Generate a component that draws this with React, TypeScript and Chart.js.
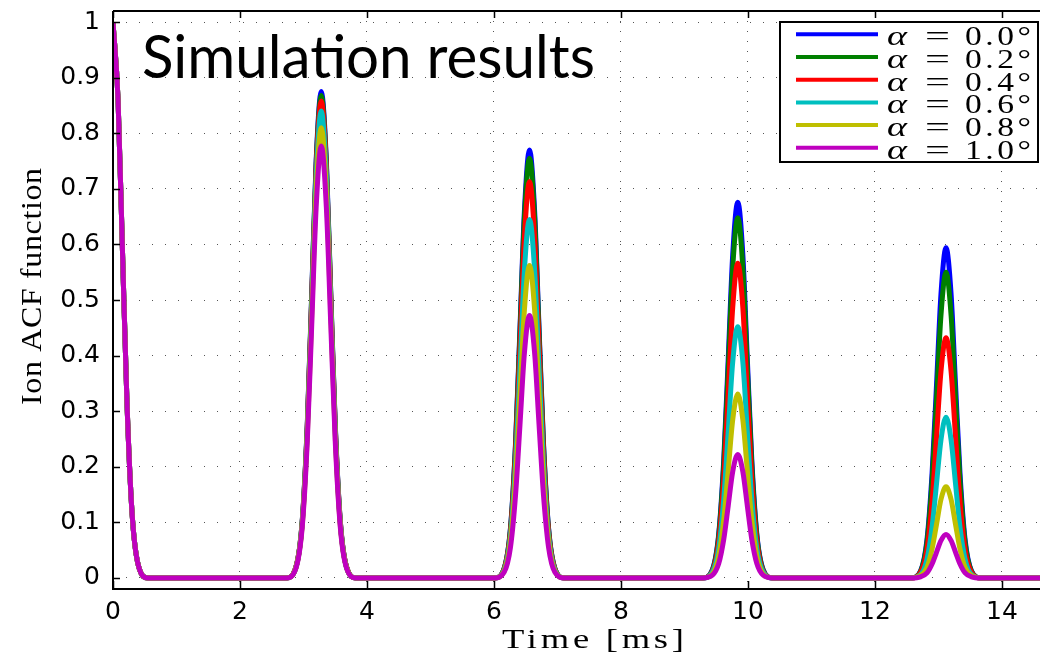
import React, { useEffect, useRef } from "react";
import { Chart, registerables } from "chart.js";

Chart.register(...registerables);

// ---------- DATA ----------
const timeMs = [
  0, 0.08, 0.15, 0.22, 0.3, 0.4, 0.55,
  2.73, 2.88, 2.98, 3.06, 3.13, 3.2, 3.28, 3.36, 3.43, 3.5, 3.58, 3.68, 3.83,
  6.01, 6.16, 6.26, 6.34, 6.41, 6.48, 6.56, 6.64, 6.71, 6.78, 6.86, 6.96, 7.11,
  9.29, 9.44, 9.54, 9.62, 9.69, 9.76, 9.84, 9.92, 9.99, 10.06, 10.14, 10.24, 10.39,
  12.57, 12.72, 12.82, 12.9, 12.97, 13.04, 13.12, 13.2, 13.27, 13.34, 13.42, 13.52, 13.67,
  14.6,
];

const alphaDeg = [0.0, 0.2, 0.4, 0.6, 0.8, 1.0];

const acfAlpha00 = [
  1, 0.859, 0.585, 0.316, 0.117, 0.022, 0,
  0, 0.019, 0.102, 0.277, 0.512, 0.752, 0.875, 0.752, 0.512, 0.277, 0.102, 0.019, 0,
  0, 0.017, 0.09, 0.243, 0.45, 0.661, 0.77, 0.661, 0.45, 0.243, 0.09, 0.017, 0,
  0, 0.015, 0.079, 0.214, 0.395, 0.581, 0.676, 0.581, 0.395, 0.214, 0.079, 0.015, 0,
  0, 0.013, 0.069, 0.188, 0.347, 0.51, 0.594, 0.51, 0.347, 0.188, 0.069, 0.013, 0,
  0,
];
const acfAlpha02 = [
  1, 0.859, 0.585, 0.316, 0.117, 0.022, 0,
  0, 0.019, 0.102, 0.274, 0.508, 0.746, 0.868, 0.746, 0.508, 0.274, 0.102, 0.019, 0,
  0, 0.017, 0.088, 0.239, 0.442, 0.649, 0.755, 0.649, 0.442, 0.239, 0.088, 0.017, 0,
  0, 0.014, 0.076, 0.205, 0.379, 0.557, 0.648, 0.557, 0.379, 0.205, 0.076, 0.014, 0,
  0, 0.012, 0.064, 0.174, 0.322, 0.472, 0.55, 0.472, 0.322, 0.174, 0.064, 0.012, 0,
  0,
];
const acfAlpha04 = [
  1, 0.859, 0.585, 0.316, 0.117, 0.022, 0,
  0, 0.019, 0.1, 0.271, 0.502, 0.737, 0.858, 0.737, 0.502, 0.271, 0.1, 0.019, 0,
  0, 0.016, 0.083, 0.225, 0.417, 0.612, 0.713, 0.612, 0.417, 0.225, 0.083, 0.016, 0,
  0, 0.012, 0.066, 0.179, 0.331, 0.486, 0.566, 0.486, 0.331, 0.179, 0.066, 0.012, 0,
  0, 0.01, 0.051, 0.137, 0.253, 0.371, 0.432, 0.371, 0.253, 0.137, 0.051, 0.01, 0,
  0,
];
const acfAlpha06 = [
  1, 0.859, 0.585, 0.316, 0.117, 0.022, 0,
  0, 0.018, 0.098, 0.265, 0.491, 0.722, 0.84, 0.722, 0.491, 0.265, 0.098, 0.018, 0,
  0, 0.014, 0.075, 0.204, 0.377, 0.554, 0.645, 0.554, 0.377, 0.204, 0.075, 0.014, 0,
  0, 0.01, 0.053, 0.143, 0.264, 0.388, 0.452, 0.388, 0.264, 0.143, 0.053, 0.01, 0,
  0, 0.006, 0.034, 0.091, 0.169, 0.248, 0.289, 0.248, 0.169, 0.091, 0.034, 0.006, 0,
  0,
];
const acfAlpha08 = [
  1, 0.859, 0.585, 0.316, 0.117, 0.022, 0,
  0, 0.018, 0.095, 0.256, 0.474, 0.696, 0.81, 0.696, 0.474, 0.256, 0.095, 0.018, 0,
  0, 0.012, 0.066, 0.178, 0.329, 0.483, 0.562, 0.483, 0.329, 0.178, 0.066, 0.012, 0,
  0, 0.007, 0.039, 0.105, 0.194, 0.284, 0.331, 0.284, 0.194, 0.105, 0.039, 0.007, 0,
  0, 0.004, 0.019, 0.052, 0.096, 0.141, 0.164, 0.141, 0.096, 0.052, 0.019, 0.004, 0,
  0,
];
const acfAlpha10 = [
  1, 0.859, 0.585, 0.316, 0.117, 0.022, 0,
  0, 0.017, 0.091, 0.246, 0.455, 0.667, 0.777, 0.667, 0.455, 0.246, 0.091, 0.017, 0,
  0, 0.01, 0.055, 0.149, 0.276, 0.405, 0.472, 0.405, 0.276, 0.149, 0.055, 0.01, 0,
  0, 0.005, 0.026, 0.07, 0.13, 0.191, 0.222, 0.191, 0.13, 0.07, 0.026, 0.005, 0,
  0, 0.002, 0.009, 0.025, 0.046, 0.067, 0.078, 0.067, 0.046, 0.025, 0.009, 0.002, 0,
  0,
];

const seriesValues = [acfAlpha00, acfAlpha02, acfAlpha04, acfAlpha06, acfAlpha08, acfAlpha10];
const seriesColors = ["#0000ff", "#008000", "#ff0000", "#00bfbf", "#bfbf00", "#bf00bf"];

const xTickValues = [0, 2, 4, 6, 8, 10, 12, 14];
const yTickValues = [0, 0.1, 0.2, 0.3, 0.4, 0.5, 0.6, 0.7, 0.8, 0.9, 1];

const chartTitle = "Simulation results";
const xAxisTitle = "Time [ms]";
const yAxisTitle = "Ion ACF function";

// ---------- helpers ----------
// draws text to a target width, partly by letter spacing and the rest by horizontal stretch
function drawFit(
  ctx: CanvasRenderingContext2D,
  text: string,
  x: number,
  y: number,
  width: number,
  font: string,
  spaceShare = 0
) {
  ctx.font = font;
  const anyCtx = ctx as any;
  const hasLS = "letterSpacing" in anyCtx;
  const w = ctx.measureText(text).width || 1;
  ctx.save();
  let spacing = 0;
  if (hasLS && spaceShare > 0 && text.length > 1) {
    spacing = ((width - w) * spaceShare) / (text.length - 1);
    anyCtx.letterSpacing = spacing.toFixed(2) + "px";
  }
  const w2 = hasLS && spacing ? w + spacing * (text.length - 1) : w;
  ctx.translate(x, y);
  ctx.scale(width / w2, 1);
  ctx.textAlign = "left";
  ctx.textBaseline = "alphabetic";
  ctx.fillText(text, 0, 0);
  if (hasLS) anyCtx.letterSpacing = "0px";
  ctx.restore();
}

const overlayPlugin = {
  id: "overlay",
  afterDraw(chart: any) {
    const ctx: CanvasRenderingContext2D = chart.ctx;
    const { left, right, top, bottom } = chart.chartArea;
    const xs = chart.scales.x;
    const ys = chart.scales.y;
    ctx.save();
    ctx.setLineDash([]);
    ctx.strokeStyle = "#000";
    ctx.lineWidth = 2;
    // frame
    ctx.beginPath();
    ctx.moveTo(left, top);
    ctx.lineTo(right + 2, top);
    ctx.moveTo(left, top);
    ctx.lineTo(left, bottom);
    ctx.lineTo(right + 2, bottom);
    ctx.stroke();
    // inward ticks
    ctx.lineWidth = 1.5;
    ctx.beginPath();
    xTickValues.forEach((v) => {
      const px = Math.round(xs.getPixelForValue(v)) + 0.5;
      ctx.moveTo(px, bottom);
      ctx.lineTo(px, bottom - 8);
      ctx.moveTo(px, top);
      ctx.lineTo(px, top + 7);
    });
    yTickValues.forEach((v) => {
      const py = Math.round(ys.getPixelForValue(v)) + 0.5;
      ctx.moveTo(left, py);
      ctx.lineTo(left + 7, py);
    });
    ctx.stroke();

    ctx.fillStyle = "#000";
    // in-plot title
    drawFit(ctx, chartTitle, 142, 78, 453, "60px Lato");

    // legend box
    const bx = 780, by = 22, bw = 258, bh = 140;
    ctx.fillStyle = "#fff";
    ctx.fillRect(bx, by, bw, bh);
    ctx.strokeStyle = "#000";
    ctx.lineWidth = 2;
    ctx.strokeRect(bx, by, bw, bh);
    seriesColors.forEach((c, i) => {
      const ly = 34.3 + i * 22.7;
      ctx.strokeStyle = c;
      ctx.lineWidth = 4;
      ctx.beginPath();
      ctx.moveTo(796, ly);
      ctx.lineTo(878, ly);
      ctx.stroke();
      ctx.fillStyle = "#000";
      const base = ly + 11;
      drawFit(ctx, "\u03b1", 887, base, 20, "italic 27px 'Liberation Serif'");
      drawFit(ctx, "=", 925, base, 25, "27px 'Liberation Serif'");
      drawFit(ctx, alphaDeg[i].toFixed(1) + "\u00b0", 965, base, 66, "27px 'Liberation Serif'", 0.4);
    });

    // axis titles
    ctx.fillStyle = "#000";
    drawFit(ctx, xAxisTitle, 502, 648, 182, "28px 'Liberation Serif'", 0.35);
    ctx.save();
    ctx.translate(41, 405);
    ctx.rotate(-Math.PI / 2);
    drawFit(ctx, yAxisTitle, 0, 0, 237, "29px 'Liberation Serif'", 0.3);
    ctx.restore();

    ctx.restore();
  },
};

export default function App() {
  const canvasRef = useRef<HTMLCanvasElement | null>(null);

  useEffect(() => {
    const canvas = canvasRef.current;
    if (!canvas) return;
    const datasets = seriesValues.map((vals, i) => ({
      label: "\u03b1 = " + alphaDeg[i].toFixed(1) + "\u00b0",
      data: timeMs.map((t, k) => ({ x: t, y: vals[k] })),
      borderColor: seriesColors[i],
      backgroundColor: seriesColors[i],
      borderWidth: 5,
      pointRadius: 0,
      fill: false,
      cubicInterpolationMode: "monotone" as const,
      order: seriesValues.length - 1 - i,
    }));

    const tickFont = { family: "'DejaVu Sans'", size: 25 };

    const chart = new Chart(canvas, {
      type: "line",
      data: { datasets },
      options: {
        animation: false,
        responsive: false,
        devicePixelRatio: 1,
        layout: { padding: { left: 0, top: 11, right: 0, bottom: 0 } },
        plugins: { legend: { display: false }, tooltip: { enabled: false }, title: { display: false } },
        scales: {
          x: {
            type: "linear",
            min: 0,
            max: 14.6,
            afterBuildTicks: (scale: any) => {
              scale.ticks = xTickValues.map((v) => ({ value: v }));
            },
            afterFit: (scale: any) => {
              scale.height = 68;
              scale.paddingLeft = 0;
              scale.paddingRight = 0;
            },
            ticks: {
              color: "#000",
              font: tickFont,
              padding: 8,
              maxRotation: 0,
              autoSkip: false,
              callback: (v: any) => String(v),
            },
            grid: { color: "#555", lineWidth: 1, drawTicks: false, borderDash: [1, 9] } as any,
            border: { display: false, dash: [1, 9] },
          },
          y: {
            type: "linear",
            min: -0.02,
            max: 1.02,
            afterBuildTicks: (scale: any) => {
              scale.ticks = yTickValues.map((v) => ({ value: v }));
            },
            afterFit: (scale: any) => {
              scale.width = 113;
              scale.paddingTop = 0;
              scale.paddingBottom = 0;
            },
            ticks: {
              color: "#000",
              font: tickFont,
              padding: 13,
              autoSkip: false,
              callback: (v: any) => String(Number(Number(v).toFixed(1))),
            },
            grid: { color: "#555", lineWidth: 1, drawTicks: false, borderDash: [1, 12] } as any,
            border: { display: false, dash: [1, 12] },
          },
        },
      },
      plugins: [overlayPlugin],
    });
    return () => chart.destroy();
  }, []);

  return (
    <div style={{ position: "fixed", left: 0, top: 0, width: 1040, height: 657, background: "#fff" }}>
      <canvas ref={canvasRef} width={1040} height={657} style={{ display: "block" }} />
    </div>
  );
}
